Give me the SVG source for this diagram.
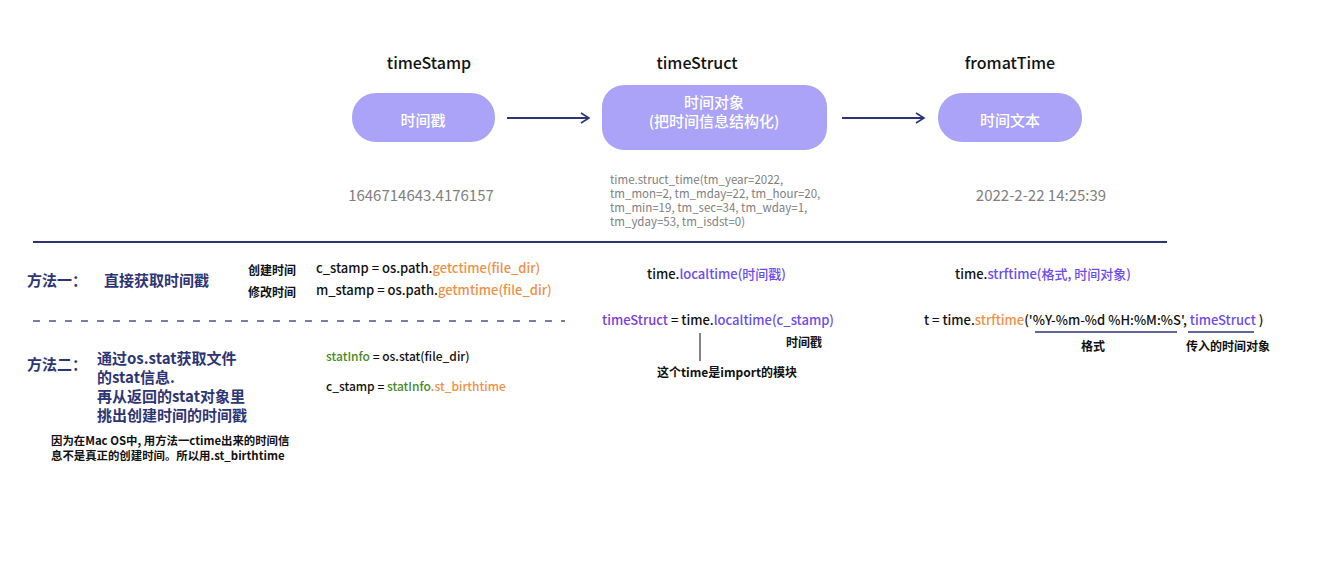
<svg xmlns="http://www.w3.org/2000/svg" width="1320" height="572" viewBox="0 0 1320 572">
<defs>
<style>
text{font-family:"Noto Sans CJK SC","Noto Sans",sans-serif;}
.title{font-size:16px;fill:#111;text-anchor:middle;font-weight:500;}
.nodebox{fill:#aaa3f7;}
.nodetxt{font-size:15px;fill:#fff;text-anchor:middle;font-weight:500;}
.gray{fill:#808080;font-size:15px;}
.grays{fill:#808080;font-size:11.5px;}
.navy{fill:#2e3574;font-size:15px;font-weight:700;}
.lbl{fill:#111;font-size:12px;font-weight:700;}
.note{fill:#111;font-size:11.4px;font-weight:700;}
.code{fill:#111;font-size:13px;font-weight:500;}
.or{fill:#f09048;}
.pu{fill:#7a3fe0;}
.bl{fill:#6c4cf0;}
.gr{fill:#4a8a2a;}
.ln{stroke:#2e3574;stroke-width:2;fill:none;}
</style>
<marker id="arr" viewBox="0 0 12 12" refX="10" refY="6" markerWidth="12" markerHeight="12" markerUnits="userSpaceOnUse" orient="auto">
<path d="M2,1 L10,6 L2,11" fill="none" stroke="#2e3574" stroke-width="1.6"/>
</marker>
</defs>
<rect width="1320" height="572" fill="#fff"/>
<g id="node-timestamp">
<text class="title" x="429" y="69">timeStamp</text>
<rect class="nodebox" x="352" y="93" width="143" height="49" rx="24"/>
<text class="nodetxt" x="423" y="126">时间戳</text>
<text class="gray" x="421" y="201" text-anchor="middle">1646714643.4176157</text>
</g>
<g id="node-timestruct">
<text class="title" x="697" y="69">timeStruct</text>
<rect class="nodebox" x="602" y="85" width="225" height="65" rx="22"/>
<text class="nodetxt" x="714" y="108">时间对象</text>
<text class="nodetxt" x="714" y="127">(把时间信息结构化)</text>
<text class="grays" x="610" y="184">time.struct_time(tm_year=2022,</text>
<text class="grays" x="610" y="198">tm_mon=2, tm_mday=22, tm_hour=20,</text>
<text class="grays" x="610" y="212">tm_min=19, tm_sec=34, tm_wday=1,</text>
<text class="grays" x="610" y="226">tm_yday=53, tm_isdst=0)</text>
</g>
<g id="node-formattime">
<text class="title" x="1010" y="69">fromatTime</text>
<rect class="nodebox" x="938" y="93" width="144" height="49" rx="24"/>
<text class="nodetxt" x="1010" y="126">时间文本</text>
<text class="gray" x="1041" y="201" text-anchor="middle">2022-2-22 14:25:39</text>
</g>
<g id="connectors">
<line class="ln" x1="507" y1="118" x2="589" y2="118" marker-end="url(#arr)"/>
<line class="ln" x1="842" y1="118" x2="924" y2="118" marker-end="url(#arr)"/>
<line x1="33" y1="242" x2="1167" y2="242" stroke="#2e3574" stroke-width="2"/>
<line x1="33" y1="321" x2="565" y2="321" stroke="#4a5090" stroke-width="1.5" stroke-dasharray="7,9"/>
<line x1="700" y1="333" x2="700" y2="361" stroke="#333" stroke-width="1.2"/>
<line x1="1035" y1="332" x2="1177" y2="332" stroke="#2e3574" stroke-width="1.5"/>
<line x1="1188" y1="332" x2="1254" y2="332" stroke="#2e3574" stroke-width="1.5"/>
</g>
<g id="method1">
<text class="navy" x="27" y="286">方法一：</text>
<text class="navy" x="104" y="286">直接获取时间戳</text>
<text class="lbl" x="248" y="275">创建时间</text>
<text class="lbl" x="248" y="297">修改时间</text>
<text class="code" x="316" y="273">c_stamp = os.path.<tspan class="or">getctime(file_dir)</tspan></text>
<text class="code" x="316" y="295">m_stamp = os.path.<tspan class="or">getmtime(file_dir)</tspan></text>
</g>
<g id="localtime">
<text class="code" x="647" y="279">time.<tspan class="bl">localtime(时间戳)</tspan></text>
<text class="code" x="602" y="325"><tspan class="pu">timeStruct</tspan> = time.<tspan class="bl">localtime(c_stamp)</tspan></text>
<text class="lbl" x="786" y="347">时间戳</text>
<text class="lbl" x="657" y="377">这个time是import的模块</text>
</g>
<g id="strftime">
<text class="code" x="955" y="279">time.<tspan class="bl">strftime(格式, 时间对象)</tspan></text>
<text class="code" x="924" y="325">t = time.<tspan class="or">strftime</tspan>('%Y-%m-%d %H:%M:%S', <tspan class="bl">timeStruct</tspan> )</text>
<text class="lbl" x="1093" y="351" text-anchor="middle">格式</text>
<text class="lbl" x="1186" y="351">传入的时间对象</text>
</g>
<g id="method2">
<text class="navy" x="27" y="370">方法二：</text>
<text class="navy" x="97" y="364">通过os.stat获取文件</text>
<text class="navy" x="97" y="383">的stat信息.</text>
<text class="navy" x="97" y="402">再从返回的stat对象里</text>
<text class="navy" x="97" y="421">挑出创建时间的时间戳</text>
<text class="code" x="326" y="361" style="font-size:12px"><tspan class="gr">statInfo</tspan> = os.stat(file_dir)</text>
<text class="code" x="326" y="391" style="font-size:12px">c_stamp = <tspan class="gr">statInfo</tspan><tspan class="or">.st_birthtime</tspan></text>
<text class="note" x="51" y="445">因为在Mac OS中, 用方法一ctime出来的时间信</text>
<text class="note" x="51" y="460">息不是真正的创建时间。所以用.st_birthtime</text>
</g>
</svg>
